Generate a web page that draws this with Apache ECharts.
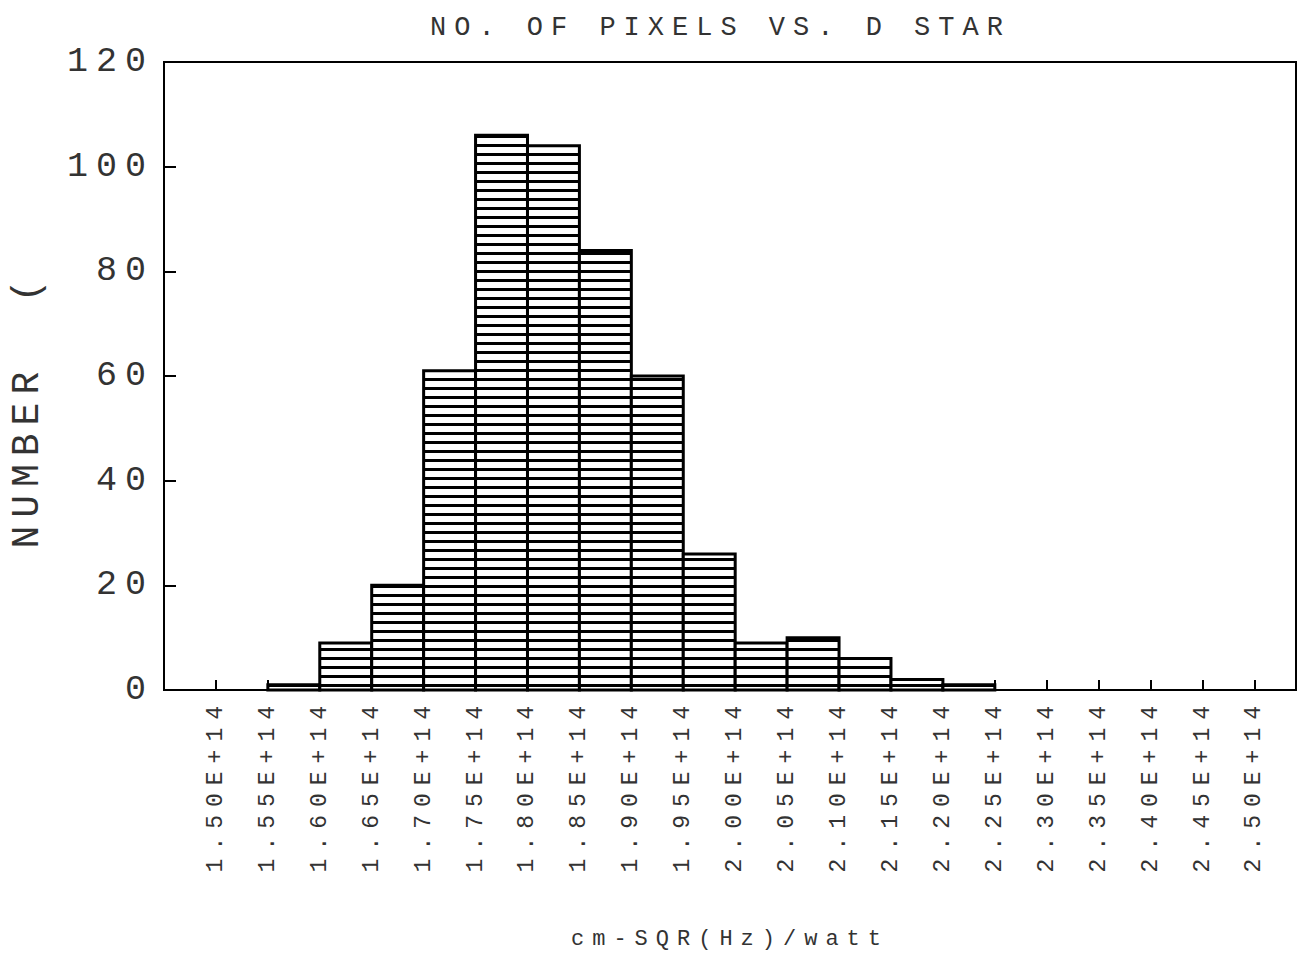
<!DOCTYPE html>
<html>
<head>
<meta charset="utf-8">
<title>No. of pixels vs. D star</title>
<script src="https://cdn.jsdelivr.net/npm/echarts@6/dist/echarts.min.js"></script>
<style>
  html, body { margin: 0; padding: 0; background: #fff; }
  /* plotter style lettering: wide spacing between characters */
  #chart { width: 1299px; height: 956px; letter-spacing: 8px; }
</style>
</head>
<body>
<div id="chart"></div>
<script>
// bin edges (D star, x 1E+14 cm-SQR(Hz)/watt)
const tickValues = [1.50, 1.55, 1.60, 1.65, 1.70, 1.75, 1.80, 1.85, 1.90, 1.95, 2.00,
                    2.05, 2.10, 2.15, 2.20, 2.25, 2.30, 2.35, 2.40, 2.45, 2.50];
const tickLabels = ['1.50E+14', '1.55E+14', '1.60E+14', '1.65E+14', '1.70E+14', '1.75E+14',
                    '1.80E+14', '1.85E+14', '1.90E+14', '1.95E+14', '2.00E+14', '2.05E+14',
                    '2.10E+14', '2.15E+14', '2.20E+14', '2.25E+14', '2.30E+14', '2.35E+14',
                    '2.40E+14', '2.45E+14', '2.50E+14'];
// number of pixels in each bin (bin i runs from tickValues[i] to tickValues[i + 1])
const pixelCounts = [0, 1, 9, 20, 61, 106, 104, 84, 60, 26, 9, 10, 6, 2, 1, 0, 0, 0, 0, 0];
const yTicks = [0, 20, 40, 60, 80, 100, 120];

const textFont = 'Liberation Mono';
const textColor = '#333';

// horizontal line hatching for the bars
function makeHatch() {
    const c = document.createElement('canvas');
    c.width = 8;
    c.height = 9;
    const ctx = c.getContext('2d');
    ctx.fillStyle = '#fff';
    ctx.fillRect(0, 0, 8, 9);
    ctx.fillStyle = '#000';
    ctx.fillRect(0, 0, 8, 3);
    return c;
}
const hatch = { image: makeHatch(), repeat: 'repeat', imageWidth: 8, imageHeight: 9 };

const chart = echarts.init(document.getElementById('chart'), null, { renderer: 'svg' });

const binData = pixelCounts.map((n, i) => [tickValues[i], tickValues[i + 1], n]);

function tickText(v) {
    for (let i = 0; i < tickValues.length; i++) {
        if (Math.abs(v - tickValues[i]) < 1e-6) return tickLabels[i];
    }
    return '';
}

const option = {
    animation: false,
    backgroundColor: '#fff',
    title: {
        text: 'NO. OF PIXELS VS. D STAR',
        left: 425,
        top: 9,
        textStyle: { fontFamily: textFont, fontSize: 27, fontWeight: 'normal', color: textColor }
    },
    grid: {
        left: 163,
        right: 3,
        top: 62,
        bottom: 266,
        show: true,
        borderColor: '#000',
        borderWidth: 2
    },
    xAxis: {
        type: 'value',
        min: 1.45,
        max: 2.54,
        interval: 0.05,
        name: 'cm-SQR(Hz)/watt',
        nameLocation: 'middle',
        nameGap: 238,
        nameTextStyle: { fontFamily: textFont, fontSize: 22, color: textColor },
        axisLine: { show: true, onZero: false, lineStyle: { color: '#000', width: 2 } },
        axisTick: { show: true, inside: true, length: 10, lineStyle: { color: '#000', width: 2 } },
        axisLabel: {
            rotate: 90,
            margin: 8,
            fontFamily: textFont,
            fontSize: 23,
            color: textColor,
            formatter: tickText
        },
        splitLine: { show: false }
    },
    yAxis: {
        type: 'value',
        min: yTicks[0],
        max: yTicks[yTicks.length - 1],
        interval: yTicks[1] - yTicks[0],
        name: 'NUMBER  (',
        nameLocation: 'middle',
        nameRotate: 90,
        nameGap: 118,
        nameTextStyle: { fontFamily: textFont, fontSize: 38, color: textColor, padding: [0, 68, 0, 0] },
        axisLine: { show: true, lineStyle: { color: '#000', width: 2 } },
        axisTick: { show: true, inside: true, length: 12, lineStyle: { color: '#000', width: 2 } },
        axisLabel: { margin: 10, fontFamily: textFont, fontSize: 35, color: textColor },
        splitLine: { show: false }
    },
    series: [{
        type: 'custom',
        data: binData,
        encode: { x: [0, 1], y: 2 },
        renderItem: function (params, api) {
            const n = api.value(2);
            if (!n) return null;
            const topLeft = api.coord([api.value(0), n]);
            const bottomRight = api.coord([api.value(1), 0]);
            return {
                type: 'rect',
                shape: {
                    x: topLeft[0],
                    y: topLeft[1],
                    width: bottomRight[0] - topLeft[0],
                    height: bottomRight[1] - topLeft[1]
                },
                style: { fill: hatch, stroke: '#000', lineWidth: 3 }
            };
        }
    }]
};

chart.setOption(option);
</script>
</body>
</html>
